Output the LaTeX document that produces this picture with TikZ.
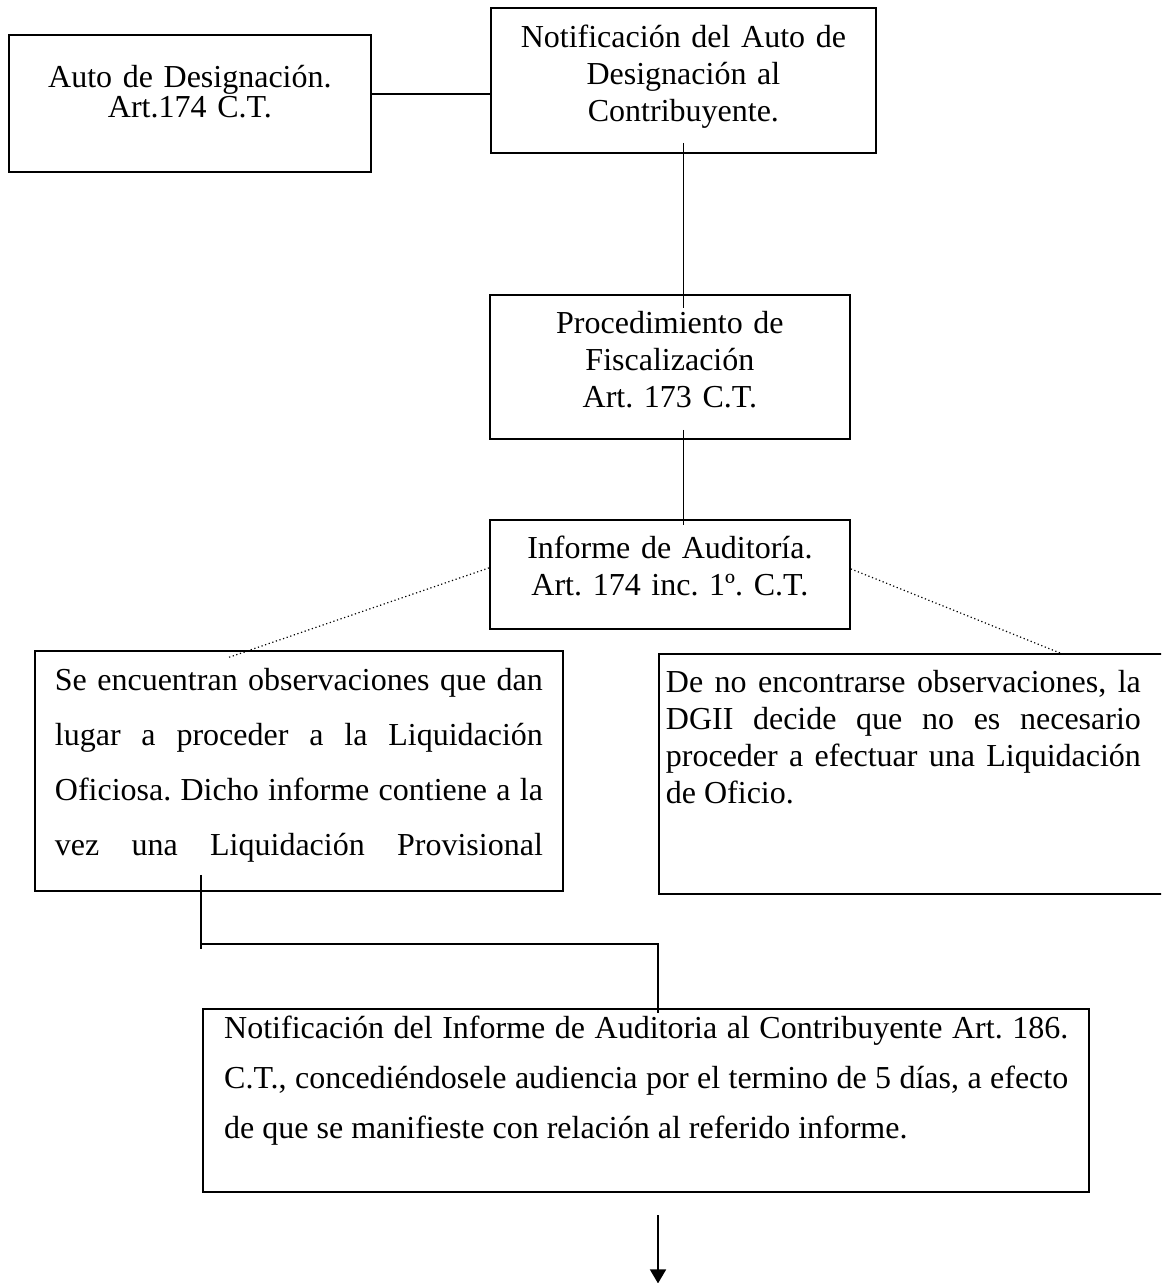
\documentclass[tikz,border=0pt]{standalone}
\usepackage{fontspec}
\setmainfont{Liberation Serif}
\usetikzlibrary{arrows.meta}
\frenchspacing
\newcommand{\dgpar}[2]{\begin{minipage}[t]{#1}\tolerance=10000\relax #2\end{minipage}}
\tikzset{
  dgbox/.style={draw, line width=0.9pt, anchor=north west, inner ysep=0pt, inner xsep=2.5pt, font=\fontsize{16}{18.5}\selectfont},
  dgline/.style={line width=0.75pt},
  dgdots/.style={line width=0.6pt, dash pattern=on 0.6pt off 1.3pt},
  dgarrow/.style={-{Triangle[length=7pt,width=8pt]}, line width=0.9pt}
}
\begin{document}
\begin{tikzpicture}[x=0.5pt, y=-0.5pt]
  \path[use as bounding box, clip] (0,0) rectangle (1161,1283);

  \node[dgbox, text width=176pt, text height=26.5pt, text depth=42pt, align=center, font=\fontsize{16}{13.5}\selectfont] (auto) at (8,34) {Auto de Designación.\\Art.174 C.T.};
  \node[dgbox, text width=187.5pt, text height=20pt, text depth=52.5pt, align=center] (notauto) at (490,7) {Notificación del Auto de\\Designación al\\Contribuyente.};
  \node[dgbox, text width=175pt, text height=19.5pt, text depth=52.5pt, align=center] (proc) at (489,294) {Procedimiento de\\Fiscalización\\Art. 173 C.T.};
  \node[dgbox, text width=175pt, text height=19.5pt, text depth=35pt, align=center] (inf) at (489,519) {Informe de Auditoría.\\Art. 174 inc. 1º. C.T.};

  \node[dgbox, inner xsep=10pt, text height=20pt, text depth=100pt, font=\fontsize{16}{27.5}\selectfont] (obs) at (34,650) {\dgpar{244pt}{\parfillskip=0pt\relax Se encuentran observaciones que dan\linebreak lugar a proceder a la Liquidación\linebreak Oficiosa. Dicho informe contiene a la\linebreak vez una Liquidación Provisional}};
  \node[dgbox, inner xsep=3.5pt, text height=19.5pt, text depth=100.5pt] (noobs) at (658,653) {\dgpar{249pt}{\rightskip=11.5pt\relax De no encontrarse observaciones, la\linebreak DGII decide que no es necesario\linebreak proceder a efectuar una Liquidación\linebreak de Oficio.}};

  \node[dgbox, line width=1.2pt, inner xsep=10.5pt, text height=14.5pt, text depth=77pt, font=\fontsize{16}{25}\selectfont] (notinf) at (202,1008) {\dgpar{422pt}{Notificación del Informe de Auditoria al Contribuyente Art. 186.\linebreak C.T., concediéndosele audiencia por el termino de 5 días, a efecto\linebreak de que se manifieste con relación al referido informe.}};

  \coordinate (elbow) at ([xshift=83.5pt,yshift=-26pt]obs.south west);
  \coordinate (drop) at ([xshift=228pt]notinf.north west);
  \coordinate (arrowend) at ([xshift=228pt,yshift=-45pt]notinf.south west);

  \draw[dgline] ([yshift=4.75pt]auto.east) -- ([yshift=4.75pt]auto.east -| notauto.west);
  \draw[dgline] ([yshift=5.5pt]notauto.south) -- ([yshift=-7pt]notauto.south |- proc.north);
  \draw[dgline] ([yshift=5pt]notauto.south |- proc.south) -- ([yshift=-3pt]notauto.south |- inf.north);
  \draw[dgdots] ([yshift=3.25pt]inf.west) -- ([xshift=-36pt,yshift=-4pt]obs.north);
  \draw[dgdots] ([yshift=2.75pt]inf.east) -- ([xshift=203.5pt,yshift=-1pt]noobs.north west);
  \draw[dgline] ([xshift=83.5pt,yshift=8.5pt]obs.south west) -- ([yshift=-2.5pt]elbow);
  \draw[dgline] (elbow) -- (elbow -| drop) -- ([yshift=-2.5pt]drop);
  \draw[dgarrow] ([yshift=-11pt]notinf.south -| drop) -- (arrowend);
\end{tikzpicture}
\end{document}
